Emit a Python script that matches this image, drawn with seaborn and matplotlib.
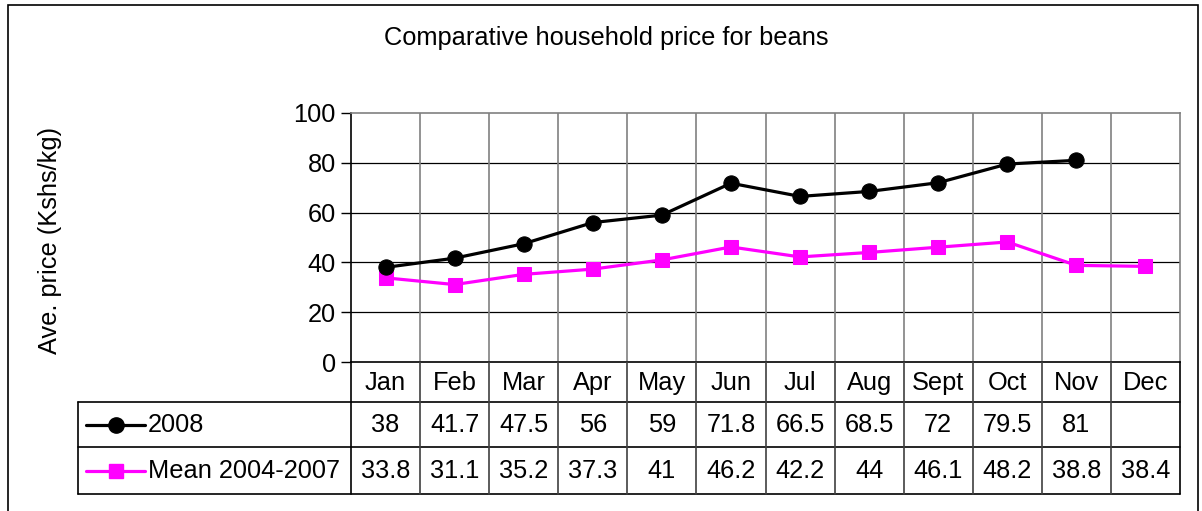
import matplotlib
matplotlib.use("Agg")
import matplotlib.pyplot as plt
import seaborn as sns
import pandas as pd

months = ['Jan', 'Feb', 'Mar', 'Apr', 'May', 'Jun', 'Jul', 'Aug', 'Sept', 'Oct', 'Nov', 'Dec']
price_2008 = [38, 41.7, 47.5, 56, 59, 71.8, 66.5, 68.5, 72, 79.5, 81, None]
price_mean = [33.8, 31.1, 35.2, 37.3, 41, 46.2, 42.2, 44, 46.1, 48.2, 38.8, 38.4]
label_2008 = '2008'
label_mean = 'Mean 2004-2007'
yticks = [0, 20, 40, 60, 80, 100]

sns.set_style('white')
plt.rcParams['font.family'] = ['Liberation Sans', 'DejaVu Sans']
plt.rcParams['text.color'] = 'black'
plt.rcParams['ytick.color'] = 'black'
plt.rcParams['ytick.labelcolor'] = 'black'
fs = 18.3

W, H = 1202, 511
fig = plt.figure(figsize=(W / 100, H / 100), dpi=100)

def fx(px):
    return px / W

def fy(py):
    return 1 - py / H

# outer chart border
fig.patches.append(plt.Rectangle((fx(8), fy(520)), fx(1198) - fx(8), fy(5) - fy(520),
                                 transform=fig.transFigure, fill=False, ec='black', lw=1.2))

L, R, T, B = 351, 1180, 113, 362
ax = fig.add_axes([fx(L), fy(B), fx(R) - fx(L), fy(T) - fy(B)])

df = pd.DataFrame({'x': [i + 0.5 for i in range(12)], 'y2008': price_2008, 'ymean': price_mean})
sns.lineplot(data=df, x='x', y='y2008', ax=ax, color='black', lw=2.3, marker='o',
             markersize=11, markeredgecolor='black', zorder=5)
sns.lineplot(data=df, x='x', y='ymean', ax=ax, color='#FF00FF', lw=2.3, marker='s',
             markersize=10, markeredgecolor='#FF00FF', zorder=4)

ax.set_xlim(0, 12)
ax.set_ylim(0, 100)
ax.set_yticks(yticks)
ax.set_yticklabels([str(v) for v in yticks], fontsize=fs, color='black')
ax.set_xticks([])
ax.set_xlabel('')
ax.set_ylabel('')
ax.tick_params(axis='y', direction='out', length=7, width=1, color='black', pad=4, left=True)
for v in yticks[1:-1]:
    ax.axhline(v, color='black', lw=0.9, zorder=1)
for i in range(1, 12):
    ax.axvline(i, color='#808080', lw=1.2, zorder=1)
ax.spines['left'].set_color('black')
ax.spines['bottom'].set_color('black')
ax.spines['top'].set_color('#808080')
ax.spines['right'].set_color('#808080')
for s in ax.spines.values():
    s.set_linewidth(1.2)

fig.text(fx(606), fy(38), 'Comparative household price for beans', ha='center', va='center', fontsize=fs)
fig.text(fx(50), fy(240), 'Ave. price (Kshs/kg)', ha='center', va='center', rotation=90, fontsize=fs)

# data table under the axis
TL, TB = 78, 494
tab = fig.add_axes([fx(TL), fy(TB), fx(R) - fx(TL), fy(B) - fy(TB)])
colw = (R - L) / 12
tab.set_xlim(-(L - TL) / colw, 12)
row_h = [40, 45, 47]
tab.set_ylim(sum(row_h), 0)
tab.axis('off')
ys = [0, row_h[0], row_h[0] + row_h[1], sum(row_h)]
lc = '#404040'
for y in ys[1:]:
    tab.plot([-(L - TL) / colw, 12], [y, y], color='black', lw=1.2, clip_on=False)
tab.plot([-(L - TL) / colw] * 2, [ys[1], ys[3]], color='black', lw=1.2, clip_on=False)
for i in range(13):
    tab.plot([i, i], [0, ys[3]], color=lc if 0 < i < 12 else 'black', lw=1.2, clip_on=False)

for i, m in enumerate(months):
    tab.text(i + 0.5, (ys[0] + ys[1]) / 2 + 1, m, ha='center', va='center', fontsize=fs)
for row, vals in ((1, price_2008), (2, price_mean)):
    yc = (ys[row] + ys[row + 1]) / 2 + 1
    for i, v in enumerate(vals):
        if v is not None:
            tab.text(i + 0.5, yc, f'{v:g}', ha='center', va='center', fontsize=fs)

# legend keys inside the table
x0 = -(L - TL) / colw
for row, lab, col, mk, ms in ((1, label_2008, 'black', 'o', 11), (2, label_mean, '#FF00FF', 's', 10)):
    yc = (ys[row] + ys[row + 1]) / 2
    xa, xb = x0 + 8 / colw, x0 + 67 / colw
    tab.plot([xa, xb], [yc, yc], color=col, lw=2.3, clip_on=False)
    tab.plot([(xa + xb) / 2], [yc], marker=mk, color=col, markersize=ms, clip_on=False)
    tab.text(x0 + 70 / colw, yc + 1, lab, ha='left', va='center', fontsize=fs)

fig.savefig('out.png', dpi=100)
